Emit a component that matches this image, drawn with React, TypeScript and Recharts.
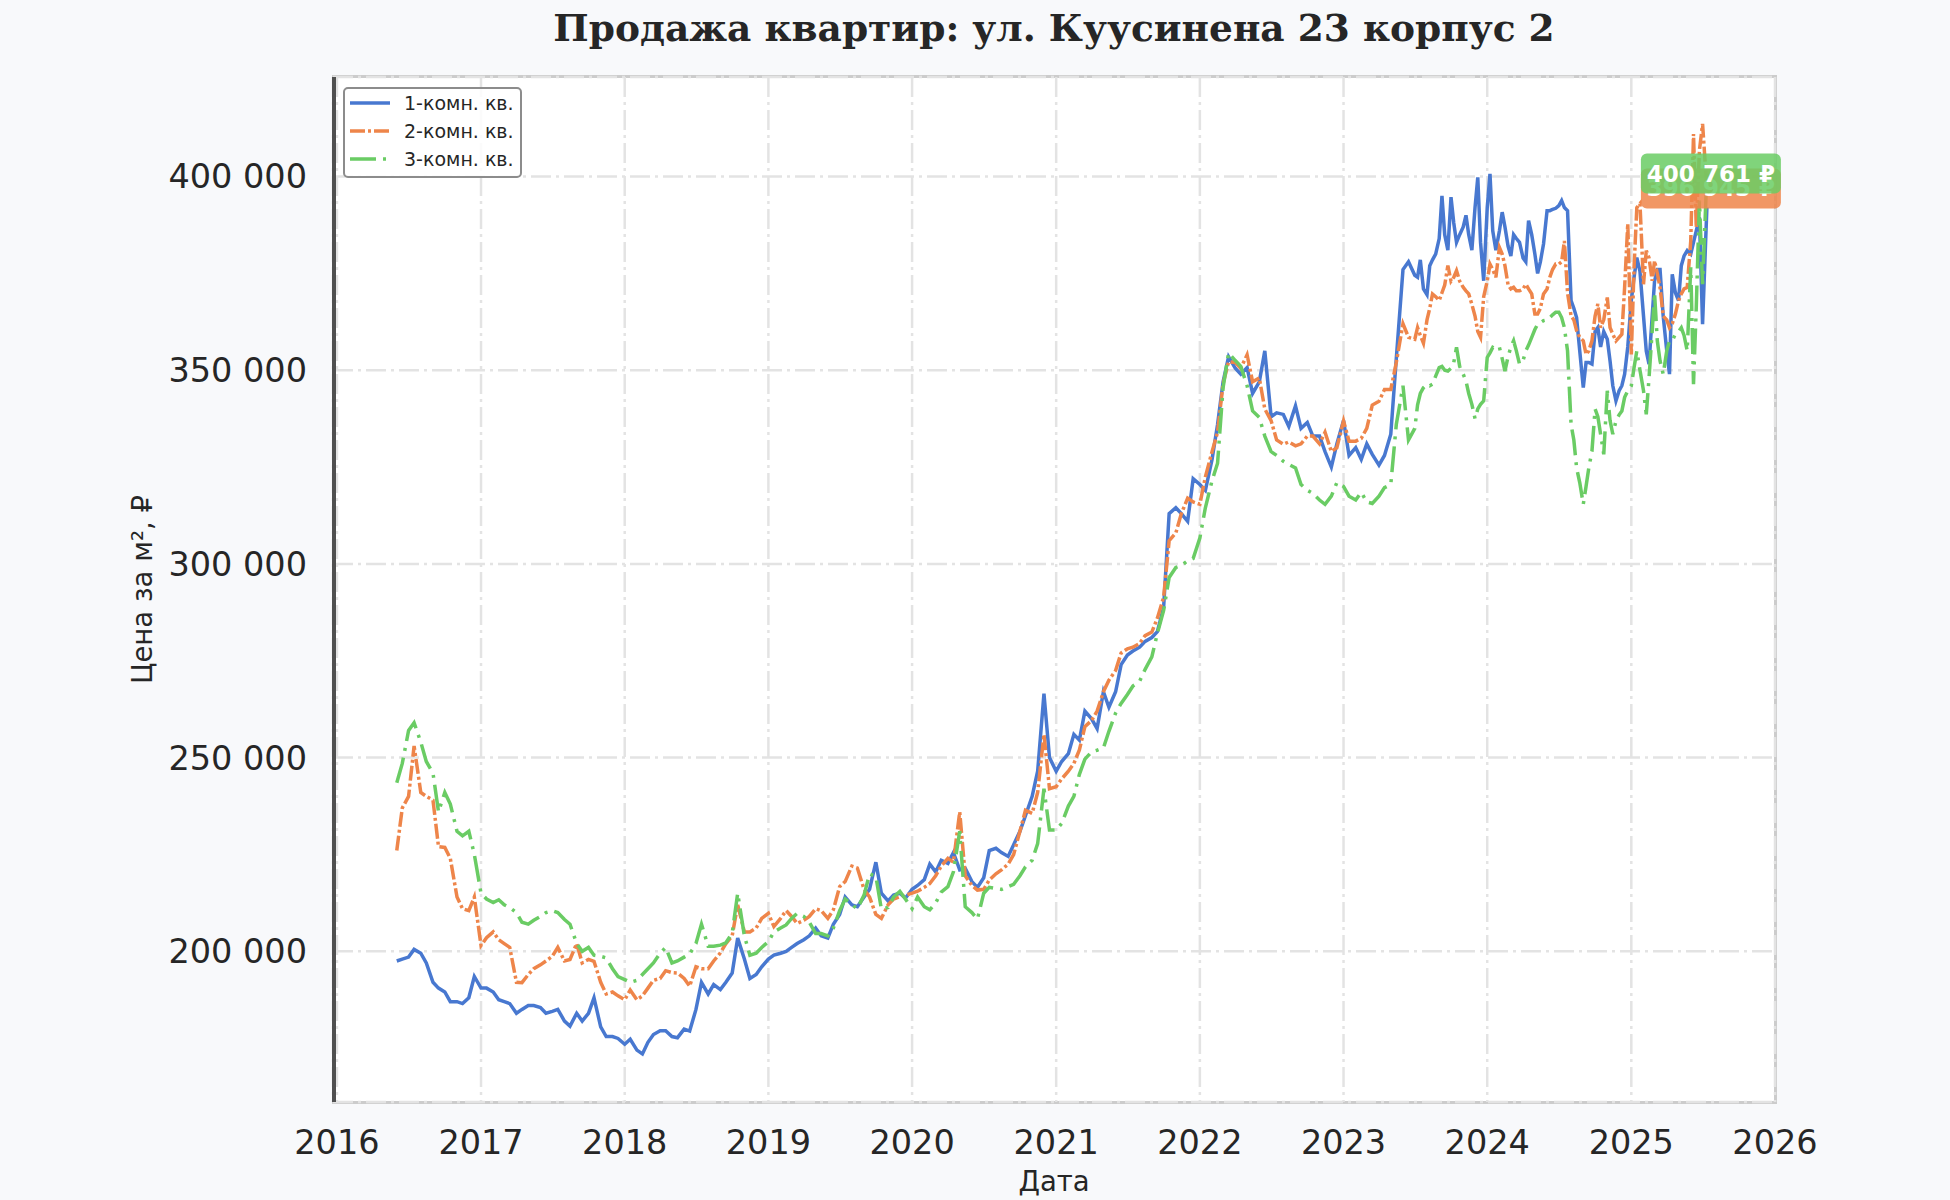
import { LineChart, Line, XAxis, YAxis, CartesianGrid, Legend, ReferenceDot, Label } from 'recharts'

// даты наблюдений (до июля 2023 — два раза в месяц, дальше — еженедельно)
const DATES = [
  '2016-06-01', '2016-06-15', '2016-07-01', '2016-07-15', '2016-08-01', '2016-08-15', '2016-09-01', '2016-09-15',
  '2016-10-01', '2016-10-15', '2016-11-01', '2016-11-15', '2016-12-01', '2016-12-15',
  '2017-01-01', '2017-01-15', '2017-02-01', '2017-02-15', '2017-03-01', '2017-03-15', '2017-04-01', '2017-04-15',
  '2017-05-01', '2017-05-15', '2017-06-01', '2017-06-15', '2017-07-01', '2017-07-15', '2017-08-01', '2017-08-15',
  '2017-09-01', '2017-09-15', '2017-10-01', '2017-10-15', '2017-11-01', '2017-11-15', '2017-12-01', '2017-12-15',
  '2018-01-01', '2018-01-15', '2018-02-01', '2018-02-15', '2018-03-01', '2018-03-15', '2018-04-01', '2018-04-15',
  '2018-05-01', '2018-05-15', '2018-06-01', '2018-06-15', '2018-07-01', '2018-07-15', '2018-08-01', '2018-08-15',
  '2018-09-01', '2018-09-15', '2018-10-01', '2018-10-15', '2018-11-01', '2018-11-15', '2018-12-01', '2018-12-15',
  '2019-01-01', '2019-01-15', '2019-02-01', '2019-02-15', '2019-03-01', '2019-03-15', '2019-04-01', '2019-04-15',
  '2019-05-01', '2019-05-15', '2019-06-01', '2019-06-15', '2019-07-01', '2019-07-15', '2019-08-01', '2019-08-15',
  '2019-09-01', '2019-09-15', '2019-10-01', '2019-10-15', '2019-11-01', '2019-11-15', '2019-12-01', '2019-12-15',
  '2020-01-01', '2020-01-15', '2020-02-01', '2020-02-15', '2020-03-01', '2020-03-15', '2020-04-01', '2020-04-15',
  '2020-05-01', '2020-05-15', '2020-06-01', '2020-06-15', '2020-07-01', '2020-07-15', '2020-08-01', '2020-08-15',
  '2020-09-01', '2020-09-15', '2020-10-01', '2020-10-15', '2020-11-01', '2020-11-15', '2020-12-01', '2020-12-15',
  '2021-01-01', '2021-01-15', '2021-02-01', '2021-02-15', '2021-03-01', '2021-03-15', '2021-04-01', '2021-04-15',
  '2021-05-01', '2021-05-15', '2021-06-01', '2021-06-15', '2021-07-01', '2021-07-15', '2021-08-01', '2021-08-15',
  '2021-09-01', '2021-09-15', '2021-10-01', '2021-10-15', '2021-11-01', '2021-11-15', '2021-12-01', '2021-12-15',
  '2022-01-01', '2022-01-15', '2022-02-01', '2022-02-15', '2022-03-01', '2022-03-15', '2022-04-01', '2022-04-15',
  '2022-05-01', '2022-05-15', '2022-06-01', '2022-06-15', '2022-07-01', '2022-07-15', '2022-08-01', '2022-08-15',
  '2022-09-01', '2022-09-15', '2022-10-01', '2022-10-15', '2022-11-01', '2022-11-15', '2022-12-01', '2022-12-15',
  '2023-01-01', '2023-01-15', '2023-02-01', '2023-02-15', '2023-03-01', '2023-03-15', '2023-04-01', '2023-04-15',
  '2023-05-01', '2023-05-15', '2023-06-01', '2023-06-15',
  '2023-07-01', '2023-07-08', '2023-07-15', '2023-07-23', '2023-08-01', '2023-08-08', '2023-08-15', '2023-08-23',
  '2023-09-01', '2023-09-08', '2023-09-15', '2023-09-23', '2023-10-01', '2023-10-08', '2023-10-15', '2023-10-23',
  '2023-11-01', '2023-11-08', '2023-11-15', '2023-11-23', '2023-12-01', '2023-12-08', '2023-12-15', '2023-12-23',
  '2024-01-01', '2024-01-08', '2024-01-15', '2024-01-23', '2024-02-01', '2024-02-08', '2024-02-15', '2024-02-23',
  '2024-03-01', '2024-03-08', '2024-03-15', '2024-03-23', '2024-04-01', '2024-04-08', '2024-04-15', '2024-04-23',
  '2024-05-01', '2024-05-08', '2024-05-15', '2024-05-23', '2024-06-01', '2024-06-08', '2024-06-15', '2024-06-23',
  '2024-07-01', '2024-07-08', '2024-07-15', '2024-07-23', '2024-08-01', '2024-08-08', '2024-08-15', '2024-08-23',
  '2024-09-01', '2024-09-08', '2024-09-15', '2024-09-23', '2024-10-01', '2024-10-08', '2024-10-15', '2024-10-23',
  '2024-11-01', '2024-11-08', '2024-11-15', '2024-11-23', '2024-12-01', '2024-12-08', '2024-12-15', '2024-12-23',
  '2025-01-01', '2025-01-08', '2025-01-15', '2025-01-23', '2025-02-01', '2025-02-08', '2025-02-15', '2025-02-23',
  '2025-03-01', '2025-03-08', '2025-03-15', '2025-03-23', '2025-04-01', '2025-04-08', '2025-04-15', '2025-04-23',
  '2025-05-01', '2025-05-08', '2025-05-15', '2025-05-23', '2025-06-01', '2025-06-08', '2025-06-15', '2025-06-23',
  '2025-07-01', '2025-07-12',
]

// цена за м², тыс. ₽
const ONE_ROOM = [
  197.5, 198, 198.5, 200.5, 199.5, 197, 192, 190.5, 189.5, 187, 187, 186.5, 188, 193.5,
  190.5, 190.5, 189.5, 187.5, 187, 186.5, 184, 185, 186, 186, 185.5, 184, 184.5, 185, 182, 180.7, 184, 182, 184, 188, 180.5, 178, 178, 177.5,
  176, 177.3, 174.5, 173.5, 176.5, 178.5, 179.5, 179.5, 178, 177.7, 179.9, 179.4, 185, 192, 189, 191.4, 190.1, 192, 194.4, 203.4, 198, 193, 194, 196,
  198, 199, 199.5, 200, 201, 202, 203, 204, 206, 204, 203.4, 207, 209.5, 214, 212, 211.5, 214, 216, 223, 215, 213, 214.5, 215, 213.7,
  216, 217, 218.5, 222.5, 220.5, 223.5, 222.7, 225.5, 221, 221.4, 218, 216.5, 219, 226, 226.6, 225.5, 224.5, 227.5, 231, 235, 240, 246.5, 266.5, 250,
  246.5, 249, 251, 256, 254.5, 262, 260, 257.5, 267, 263, 267, 274, 276.5, 277.5, 278.5, 280, 281, 282.5, 288.8, 313, 314.5, 313, 311, 322,
  320.5, 319, 327, 336, 347, 353.5, 350.5, 349, 350.7, 344, 347, 355, 338, 339, 338.6, 335.5, 340.8, 335, 336.5, 333, 333, 329, 325, 331,
  337, 328, 330, 327, 331, 328.3, 325.5, 328, 333.5, 353, 376, 378,
  374.5, 374, 378.5, 371, 369.5, 377, 378.5, 380, 384, 395, 385, 381, 394.7, 388, 383, 385, 387, 390, 385, 381, 392, 399.8, 383, 373.1,
  392, 400.7, 386, 381, 386, 390.8, 387, 382, 379.5, 385, 384, 383, 379, 378, 388.6, 385, 380, 375, 378, 382.6, 391.2, 391.2, 391.5, 391.8,
  392.5, 393.8, 392, 391.2, 368, 366, 363.6, 355, 345.5, 352, 352, 351.6, 360, 361, 356, 360, 358, 352.4, 346, 342.1, 344.7, 346, 349, 356,
  368, 374, 379.1, 375.5, 364, 355, 351.6, 364, 373, 376, 376, 364, 355, 349, 374.8, 370, 368, 377, 379.5, 380.9, 380, 383, 386, 389.5,
  361.9, 392,
]

const TWO_ROOM = [
  226, 237, 240, 253, 241, 240, 239, 227, 226.8, 224, 214, 211, 210.5, 214,
  201.5, 203.5, 205, 203, 202, 201, 192, 191.9, 194, 195.5, 196.5, 197.5, 198.7, 201, 197.5, 197.9, 202, 197, 197.9, 197.4, 192, 189, 189.5, 188.5,
  187.5, 190, 187.5, 188.5, 190.5, 192.5, 193, 195, 194.5, 194.4, 193, 191, 196, 195.5, 195.5, 197.5, 199.6, 202, 204, 212, 205, 205, 206, 208.5,
  209.8, 206.4, 208.5, 210.5, 209, 207.2, 208, 209, 211, 210.5, 208.5, 210.7, 216.7, 218, 222, 221.5, 216, 214, 209.5, 208.5, 212, 213.5, 214.1, 214.5,
  215, 215.5, 216.5, 217.5, 219.5, 222, 224, 223, 236, 219.5, 217, 215.8, 216, 218.4, 220, 221, 222.5, 225, 231, 236.4, 235.6, 241, 256, 242,
  242.5, 244.5, 246.5, 248.5, 252, 258, 259.6, 262, 267, 270, 272.5, 277, 278.1, 278.5, 279.5, 281.5, 282.4, 286, 291.4, 306, 308, 313, 317, 316,
  315.4, 322.5, 329, 334, 346.5, 352.2, 352, 350.5, 354, 347, 348, 340, 337, 332, 330.9, 331.5, 330.5, 331, 333, 333, 331, 334, 329, 330,
  336.9, 331.7, 331.7, 332.4, 335, 341, 342, 345, 345, 352, 362, 358.5,
  358, 361, 359, 357, 363, 366, 369.7, 369, 368, 370, 372, 377, 373, 374, 375.7, 373, 371.4, 370.5, 369.7, 367, 364, 360, 358.5, 369,
  373, 377.4, 376, 374, 381.7, 380, 377, 372, 371, 371.4, 370.5, 370.5, 371, 372.2, 371, 369.7, 364.5, 364.5, 366, 369.7, 371, 374, 376, 377.4,
  377.4, 378, 383.4, 370, 364, 363, 360.2, 358.5, 357.6, 354.1, 355, 357.6, 364, 367.1, 361, 363, 368.8, 361, 359.3, 357.6, 358.5, 359.3, 371.4, 387.8,
  354.1, 376.6, 392, 393, 372.2, 380.9, 379, 373.1, 378.3, 375, 371.4, 364, 363, 361, 362, 364.5, 368, 369.7, 371, 371.4, 383.4, 411, 386.9, 406.7,
  413.6, 396.945,
]

const THREE_ROOM = [
  243.5, 248.5, 257, 259, 254, 249, 246, 236, 241, 238, 231, 229.8, 231, 225,
  215, 213.5, 212.6, 213.3, 212, 211.3, 210, 207.5, 207, 208, 209, 210, 210.5, 210, 208.2, 207, 202, 200, 201, 199, 198.7, 198.3, 195.5, 193.5,
  192.7, 192, 192.5, 194, 195.5, 197, 199.5, 201, 197, 197.5, 198.5, 199.3, 202, 207, 201.3, 201.3, 201.6, 202.2, 204.7, 215, 204, 199, 199.5, 201,
  202.5, 205, 206, 206.8, 208.5, 209.8, 209, 207.5, 204.6, 204.6, 204, 206, 210.5, 213.5, 212, 211, 214.5, 220, 219.3, 210.9, 211.3, 214, 215.5, 213.5,
  211, 214, 211.5, 210.7, 212.5, 215.3, 216.7, 220.5, 231, 211.5, 210, 208.3, 215, 216.5, 216.2, 216, 216.7, 217.3, 219.5, 221.8, 223.5, 227.8, 242, 231.3,
  231.3, 233, 237.5, 240, 245.7, 249.6, 251.5, 251.9, 252.5, 256.8, 261.5, 264, 266.3, 268.5, 269.7, 272.8, 276, 282, 288, 296.5, 299.1, 299.6, 300.8, 301.4,
  306.7, 314.5, 321.5, 326, 345.5, 354.5, 352.5, 351, 346, 339.5, 337.8, 333, 329, 328, 326.5, 325.7, 324.8, 320.5, 319, 318.2, 316.5, 315.4, 317.5, 321,
  320, 317.5, 316.5, 318.5, 316, 315.6, 317.5, 319.7, 320.5, 336, 346, 332,
  335, 341, 344, 345.5, 346.4, 346, 346.4, 348.5, 350.7, 351, 350, 349.8, 350.5, 352, 355.9, 351, 349, 347.2, 344, 341.2, 337.5, 340, 341.2, 342.1,
  353.3, 354.5, 355.9, 355.4, 355.9, 353, 349.8, 353.5, 356, 357.6, 355, 351.6, 352.5, 355, 356.5, 358.5, 360.5, 361.9, 362.3, 362.8, 363, 363.6, 364.3, 365,
  365, 363.6, 361, 355, 336, 332, 324.8, 321, 315.4, 320, 324.8, 329.1, 340, 338, 333.5, 328.3, 344.7, 337, 333.5, 336.9, 338.5, 339.5, 343, 344.7,
  346, 350.7, 355, 350, 344.7, 338.6, 348, 360, 370, 357.6, 352.4, 349, 355, 357.6, 357.6, 359.3, 360, 361, 359, 355, 376.6, 346.4, 366.2, 393.8,
  372.2, 400.761,
]

const YEAR_TICKS = [2016, 2017, 2018, 2019, 2020, 2021, 2022, 2023, 2024, 2025, 2026]
const PRICE_TICKS = [200000, 250000, 300000, 350000, 400000]

const SERIES = [
  { key: 'one', name: '1-комн. кв.', color: '#4878d0', dash: undefined },
  { key: 'two', name: '2-комн. кв.', color: '#ee854a', dash: '15 3 3 3' },
  { key: 'three', name: '3-комн. кв.', color: '#6acc64', dash: '26 7 3 7' },
]

const rows = DATES.map((d, i) => ({
  t: Date.parse(d),
  one: ONE_ROOM[i] * 1000,
  two: TWO_ROOM[i] * 1000,
  three: THREE_ROOM[i] * 1000,
}))
const last = rows[rows.length - 1]

const X_DOMAIN = [Date.UTC(2015, 11, 22), Date.UTC(2026, 0, 1)]
const Y_DOMAIN = [161100, 425700]

const FONT = '"DejaVu Sans", sans-serif'
const TEXT = '#262626'

const fmt = (v: number) => String(Math.round(v)).replace(/\B(?=(\d{3})+(?!\d))/g, ' ')

function PriceTag(props: any) {
  const { cx, cy, fill, value } = props
  if (cx == null || cy == null) return null
  return (
    <g>
      <rect x={cx - 66} y={cy - 20} width={140} height={40} rx={6} fill={fill} fillOpacity={0.85} />
      <text
        x={cx + 4}
        y={cy}
        textAnchor="middle"
        dominantBaseline="central"
        fill="#ffffff"
        fontFamily={FONT}
        fontWeight="bold"
        fontSize={23}
      >
        {fmt(value)} ₽
      </text>
    </g>
  )
}

function LegendBox() {
  return (
    <div
      style={{
        border: '2px solid #8c8c8c',
        borderRadius: 5,
        background: 'rgba(255,255,255,0.85)',
        padding: '0 6px 3px 5px',
        fontFamily: FONT,
      }}
    >
      {SERIES.map((s) => (
        <div key={s.key} style={{ display: 'flex', alignItems: 'center', height: 28 }}>
          <svg width={40} height={6}>
            <line x1={0} y1={3} x2={40} y2={3} stroke={s.color} strokeWidth={3.5} strokeDasharray={s.dash} />
          </svg>
          <span style={{ marginLeft: 14, fontSize: 19, color: TEXT, whiteSpace: 'nowrap' }}>{s.name}</span>
        </div>
      ))}
    </div>
  )
}

export default function App() {
  return (
    <div style={{ position: 'absolute', left: 0, top: 0, width: 1950, height: 1200, background: '#f8f9fb' }}>
      <div style={{ position: 'absolute', left: 333, top: 77, width: 1442, height: 1025, background: '#ffffff' }} />
      <div
        style={{
          position: 'absolute',
          left: 332,
          top: 75,
          width: 1445,
          height: 1029,
          boxSizing: 'border-box',
          border: '3.5px solid #cccccc',
        }}
      />
      <svg style={{ position: 'absolute', left: 0, top: 0 }} width={1950} height={70}>
        <text
          x={1054}
          y={41}
          textAnchor="middle"
          fontFamily='"DejaVu Serif", serif'
          fontWeight="bold"
          fontSize={37.5}
          fill={TEXT}
        >
          Продажа квартир: ул. Куусинена 23 корпус 2
        </text>
      </svg>
      <div style={{ position: 'absolute', left: 0, top: 0 }}>
        <LineChart width={1950} height={1200} data={rows} margin={{ top: 77, right: 175, bottom: 38, left: 133 }}>
          <CartesianGrid stroke="#e3e3e3" strokeWidth={2.5} strokeDasharray="20 5 3 5" />
          <XAxis
            dataKey="t"
            type="number"
            domain={X_DOMAIN}
            allowDataOverflow
            ticks={YEAR_TICKS.map((y) => Date.UTC(y, 0, 1))}
            tickFormatter={(v: number) => String(new Date(v).getUTCFullYear())}
            height={60}
            axisLine={false}
            tickLine={false}
            tickSize={0}
            tickMargin={28}
            tick={{ fontSize: 33.5, fill: TEXT, fontFamily: FONT }}
          >
            <Label
              content={(p: any) => {
                const vb = p.viewBox || { x: 333, y: 1102, width: 1442 }
                return (
                  <text x={vb.x + vb.width / 2} y={vb.y + 89} textAnchor="middle" fontFamily={FONT} fontSize={27.5} fill={TEXT}>
                    Дата
                  </text>
                )
              }}
            />
          </XAxis>
          <YAxis
            type="number"
            domain={Y_DOMAIN}
            allowDataOverflow
            ticks={PRICE_TICKS}
            tickFormatter={fmt}
            width={200}
            axisLine={false}
            tickLine={false}
            tickSize={0}
            tickMargin={26}
            tick={{ fontSize: 33.5, fill: TEXT, fontFamily: FONT }}
          >
            <Label
              content={(p: any) => {
                const vb = p.viewBox || { x: 133, y: 77, height: 1025 }
                const cx = vb.x + 9
                const cy = vb.y + vb.height / 2
                return (
                  <text
                    x={cx}
                    y={cy}
                    transform={`rotate(-90 ${cx} ${cy})`}
                    textAnchor="middle"
                    dominantBaseline="central"
                    fontFamily={FONT}
                    fontSize={27.5}
                    fill={TEXT}
                  >
                    Цена за м², ₽
                  </text>
                )
              }}
            />
          </YAxis>
          <Legend
            content={<LegendBox />}
            layout="horizontal"
            verticalAlign="middle"
            align="center"
            wrapperStyle={{ left: 343, top: 87, width: 'auto', height: 'auto' }}
          />
          {SERIES.map((s) => (
            <Line
              key={s.key}
              type="linear"
              dataKey={s.key}
              name={s.name}
              stroke={s.color}
              strokeWidth={3.5}
              strokeDasharray={s.dash}
              dot={false}
              activeDot={false}
              isAnimationActive={false}
            />
          ))}
          <ReferenceDot
            x={last.t}
            y={last.two}
            r={0}
            ifOverflow="visible"
            shape={(p: any) => <PriceTag {...p} fill="#ee854a" value={last.two} />}
          />
          <ReferenceDot
            x={last.t}
            y={last.three}
            r={0}
            ifOverflow="visible"
            shape={(p: any) => <PriceTag {...p} fill="#6acc64" value={last.three} />}
          />
        </LineChart>
      </div>
      <div style={{ position: 'absolute', left: 332, top: 77, width: 4, height: 1025, background: '#505050' }} />
    </div>
  )
}
